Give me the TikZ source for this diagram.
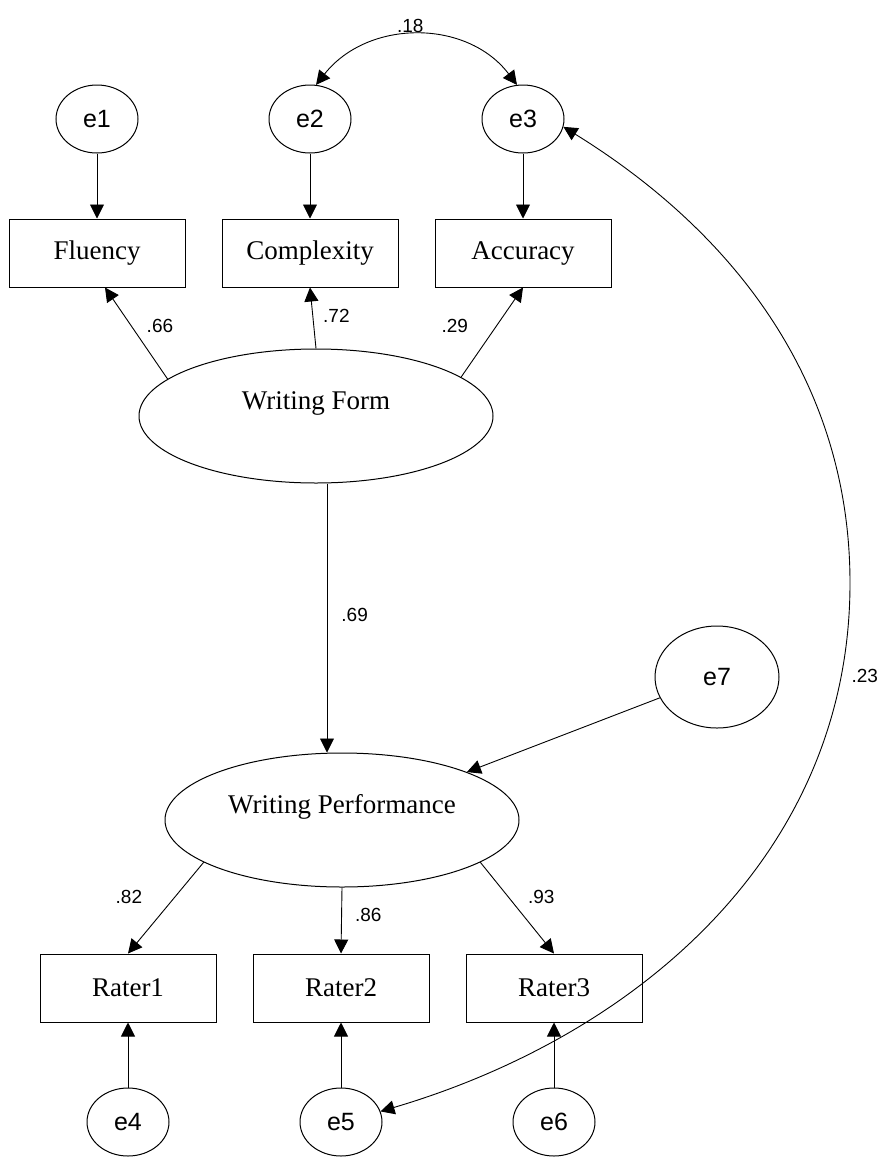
\documentclass[tikz,border=0pt]{standalone}
\usepackage{fontspec}
\setmainfont{Liberation Serif}
\newfontfamily\arialfont{Liberation Sans}
\usetikzlibrary{shapes.geometric, arrows.meta}
\tikzstyle{observed} = [rectangle, draw=black, line width=1pt, minimum width=176pt, minimum height=68pt, font=\fontsize{27}{30}\selectfont]
\tikzstyle{latent} = [ellipse, draw=black, line width=1pt, minimum width=354pt, minimum height=134pt, inner sep=0pt, font=\fontsize{27}{30}\selectfont]
\tikzstyle{errvar} = [ellipse, draw=black, line width=1pt, minimum width=82pt, minimum height=68pt, inner sep=0pt, font=\arialfont\fontsize{25}{28}\selectfont]
\tikzstyle{coef} = [inner sep=2pt, font=\arialfont\fontsize{19}{22}\selectfont]
\tikzstyle{arrow} = [line width=0.9pt, -{Triangle[length=14pt,width=14pt]}]
\tikzstyle{covar} = [line width=0.9pt, {Triangle[length=14pt,width=14pt]}-{Triangle[length=14pt,width=14pt]}]

\begin{document}
\begin{tikzpicture}[x=1pt, y=-1pt, node distance=134pt]
\path[use as bounding box, fill=white] (0,0) rectangle (884,1157);
% measurement model for writing form
\node (fluency) [observed] at (97,253) {Fluency};
\node (complexity) [observed, right of=fluency, xshift=79pt] {Complexity};
\node (accuracy) [observed, right of=complexity, xshift=79pt] {Accuracy};
\node (e1) [errvar, above of=fluency] {e1};
\node (e2) [errvar, above of=complexity] {e2};
\node (e3) [errvar, above of=accuracy] {e3};
\node (wform) [latent] at (316,416) {\raisebox{13pt}[\height][\depth]{Writing Form}};
% writing performance and raters
\node (wperf) [latent] at (342,820) {\raisebox{13pt}[\height][\depth]{Writing Performance}};
\node (e7) [errvar, minimum width=124pt, minimum height=102pt] at (717,677) {e7};
\node (rater2) [observed] at (341,988) {Rater2};
\node (rater1) [observed, left of=rater2, xshift=-79pt] {Rater1};
\node (rater3) [observed, right of=rater2, xshift=79pt] {Rater3};
\node (e4) [errvar, below of=rater1] {e4};
\node (e5) [errvar, below of=rater2] {e5};
\node (e6) [errvar, below of=rater3] {e6};

\draw [arrow] (e1) -- (fluency);
\draw [arrow] (e2) -- (complexity);
\draw [arrow] (e3) -- (accuracy);
\draw [arrow] (wform.166) -- node[coef, pos=.58, anchor=west, xshift=13pt] {.66} ([xshift=8pt]fluency.south);
\draw [arrow] (wform.north) -- node[coef, pos=.54, anchor=west, xshift=8pt] {.72} (complexity.south);
\draw [arrow] (wform.15) -- node[coef, pos=.57, anchor=east, xshift=-26pt] {.29} (accuracy.south);
\draw [arrow] ([xshift=11pt]wform.south) -- node[coef, pos=.49, anchor=west, xshift=12pt] {.69} ([xshift=-15pt]wperf.north);
\draw [arrow] (e7.200) -- (wperf.21);
\draw [arrow] (wperf.197) -- node[coef, pos=.385, anchor=east, xshift=-30pt] {.82} (rater1.north);
\draw [arrow] (wperf.south) -- node[coef, pos=.42, anchor=west, xshift=11pt] {.86} (rater2.north);
\draw [arrow] (wperf.-17) -- node[coef, pos=.385, anchor=west, xshift=17pt] {.93} (rater3.north);
\draw [arrow] (e4) -- (rater1);
\draw [arrow] (e5) -- (rater2);
\draw [arrow] (e6) -- (rater3);
% correlated errors
\draw [covar] (e2.80) .. controls (368,19) and (467,19) .. node[coef, pos=.5, anchor=south, xshift=-7pt] {.18} (e3.100);
\draw [covar] (e3.-11) .. controls (735,233) and (850,383) .. (850,583) .. controls (850,853) and (639,1035) .. (e5.15) node[coef, pos=.12, anchor=west, xshift=8pt] {.23};
\end{tikzpicture}
\end{document}
